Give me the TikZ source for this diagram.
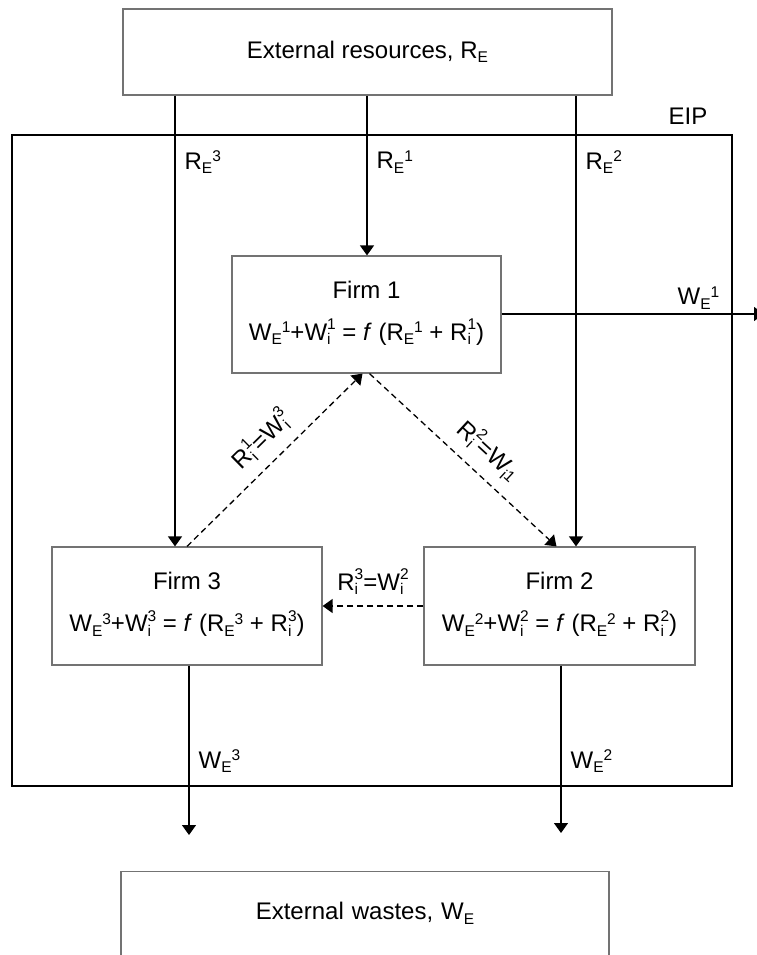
\documentclass[tikz,border=0pt]{standalone}
\usepackage{fontspec}
\setmainfont{Liberation Sans}
\usetikzlibrary{arrows.meta}
\newcommand{\Sb}[1]{\raisebox{-4.5pt}{\fontsize{15.5}{15.5}\selectfont #1}}
\newcommand{\Sp}[1]{\raisebox{7.5pt}{\fontsize{15.5}{15.5}\selectfont #1}}
\newcommand{\Ist}[1]{\raisebox{-4.5pt}{\fontsize{15.5}{12.5}\selectfont\setlength{\tabcolsep}{0pt}\begin{tabular}[b]{l}#1\\i\end{tabular}}}
\begin{document}
\begin{tikzpicture}[x=1pt,y=-1pt,
  font=\fontsize{24}{28}\selectfont,
  box/.style={draw=black!55, line width=1.2pt, fill=white, inner sep=0pt},
  firmbox/.style={box, minimum width=270pt, minimum height=118pt, align=center,
    font=\fontsize{24}{42}\selectfont},
  flow/.style={draw=black, line width=1.3pt, -{Triangle[width=14pt,length=10pt]}},
  ex/.style={flow, dash pattern=on 6pt off 4pt},
  vlab/.style={inner xsep=9pt, inner ysep=0pt, right},
  dlab/.style={inner xsep=2pt, inner ysep=7pt, above}]
\useasboundingbox (0,0) rectangle (756,955);
% EIP frame
\node[draw=black, line width=2.6pt, minimum width=720pt, minimum height=651pt, inner sep=0pt] (eip) at (372,460.5) {};
\node (eiplab) at (688,116) {EIP};
% boxes
\node[box, minimum width=489pt, minimum height=86pt] (res) at (367.5,52) {External resources, R\Sb{E}};
\node[box, minimum width=488pt, anchor=north, text height=48pt, text depth=85pt, text width=488pt, align=center] (waste) at (365,871) {External wastes, W\Sb{E}};
\node[firmbox, minimum width=269pt, minimum height=117pt] (firm1) at (366.5,314.5)
  {Firm 1\\W\Sb{E}\Sp{1}+W\Ist{1} = \textit{f} (R\Sb{E}\Sp{1} + R\Ist{1})};
\node[firmbox] (firm3) at (187,606)
  {Firm 3\\W\Sb{E}\Sp{3}+W\Ist{3} = \textit{f} (R\Sb{E}\Sp{3} + R\Ist{3})};
\node[firmbox, minimum width=271pt] (firm2) at (559.5,606)
  {Firm 2\\W\Sb{E}\Sp{2}+W\Ist{2} = \textit{f} (R\Sb{E}\Sp{2} + R\Ist{2})};
% columns and free ends
\coordinate (c3) at (175,0);
\coordinate (c1) at (367,0);
\coordinate (c2) at (576,0);
\coordinate (w1end) at (764,314);
\coordinate (w3end) at (189,835);
\coordinate (w2end) at (561,833);
% resource inflows
\draw[flow] (res.south -| c3) -- (firm3.north -| c3) node[vlab, pos=0.148] {R\Sb{E}\Sp{3}};
\draw[flow] (res.south -| c1) -- (firm1.north -| c1) node[vlab, pos=0.416] {R\Sb{E}\Sp{1}};
\draw[flow] (res.south -| c2) -- (firm2.north -| c2) node[vlab, pos=0.148] {R\Sb{E}\Sp{2}};
% waste outflows
\draw[flow] (firm1.east |- w1end) -- (w1end) node[pos=0.75, above, inner sep=4pt] {W\Sb{E}\Sp{1}};
\draw[flow] (firm3.south -| w3end) -- (w3end) node[vlab, pos=0.565] {W\Sb{E}\Sp{3}};
\draw[flow] (firm2.south -| w2end) -- (w2end) node[vlab, pos=0.571] {W\Sb{E}\Sp{2}};
% internal exchanges
\draw[ex] (firm3.north) -- ([xshift=-4pt]firm1.south) node[dlab, sloped, pos=0.52] {R\Ist{1}=W\Ist{3}};
\draw[ex] ([xshift=3pt]firm1.south) -- ([xshift=-3pt]firm2.north) node[dlab, sloped, pos=0.55] {R\Ist{2}=W\Sb{i}\raisebox{-2pt}{\fontsize{15.5}{15.5}\selectfont 1}};
\draw[ex] (firm2.west) -- (firm3.east) node[dlab, midway] {R\Ist{3}=W\Ist{2}};
\end{tikzpicture}
\end{document}
